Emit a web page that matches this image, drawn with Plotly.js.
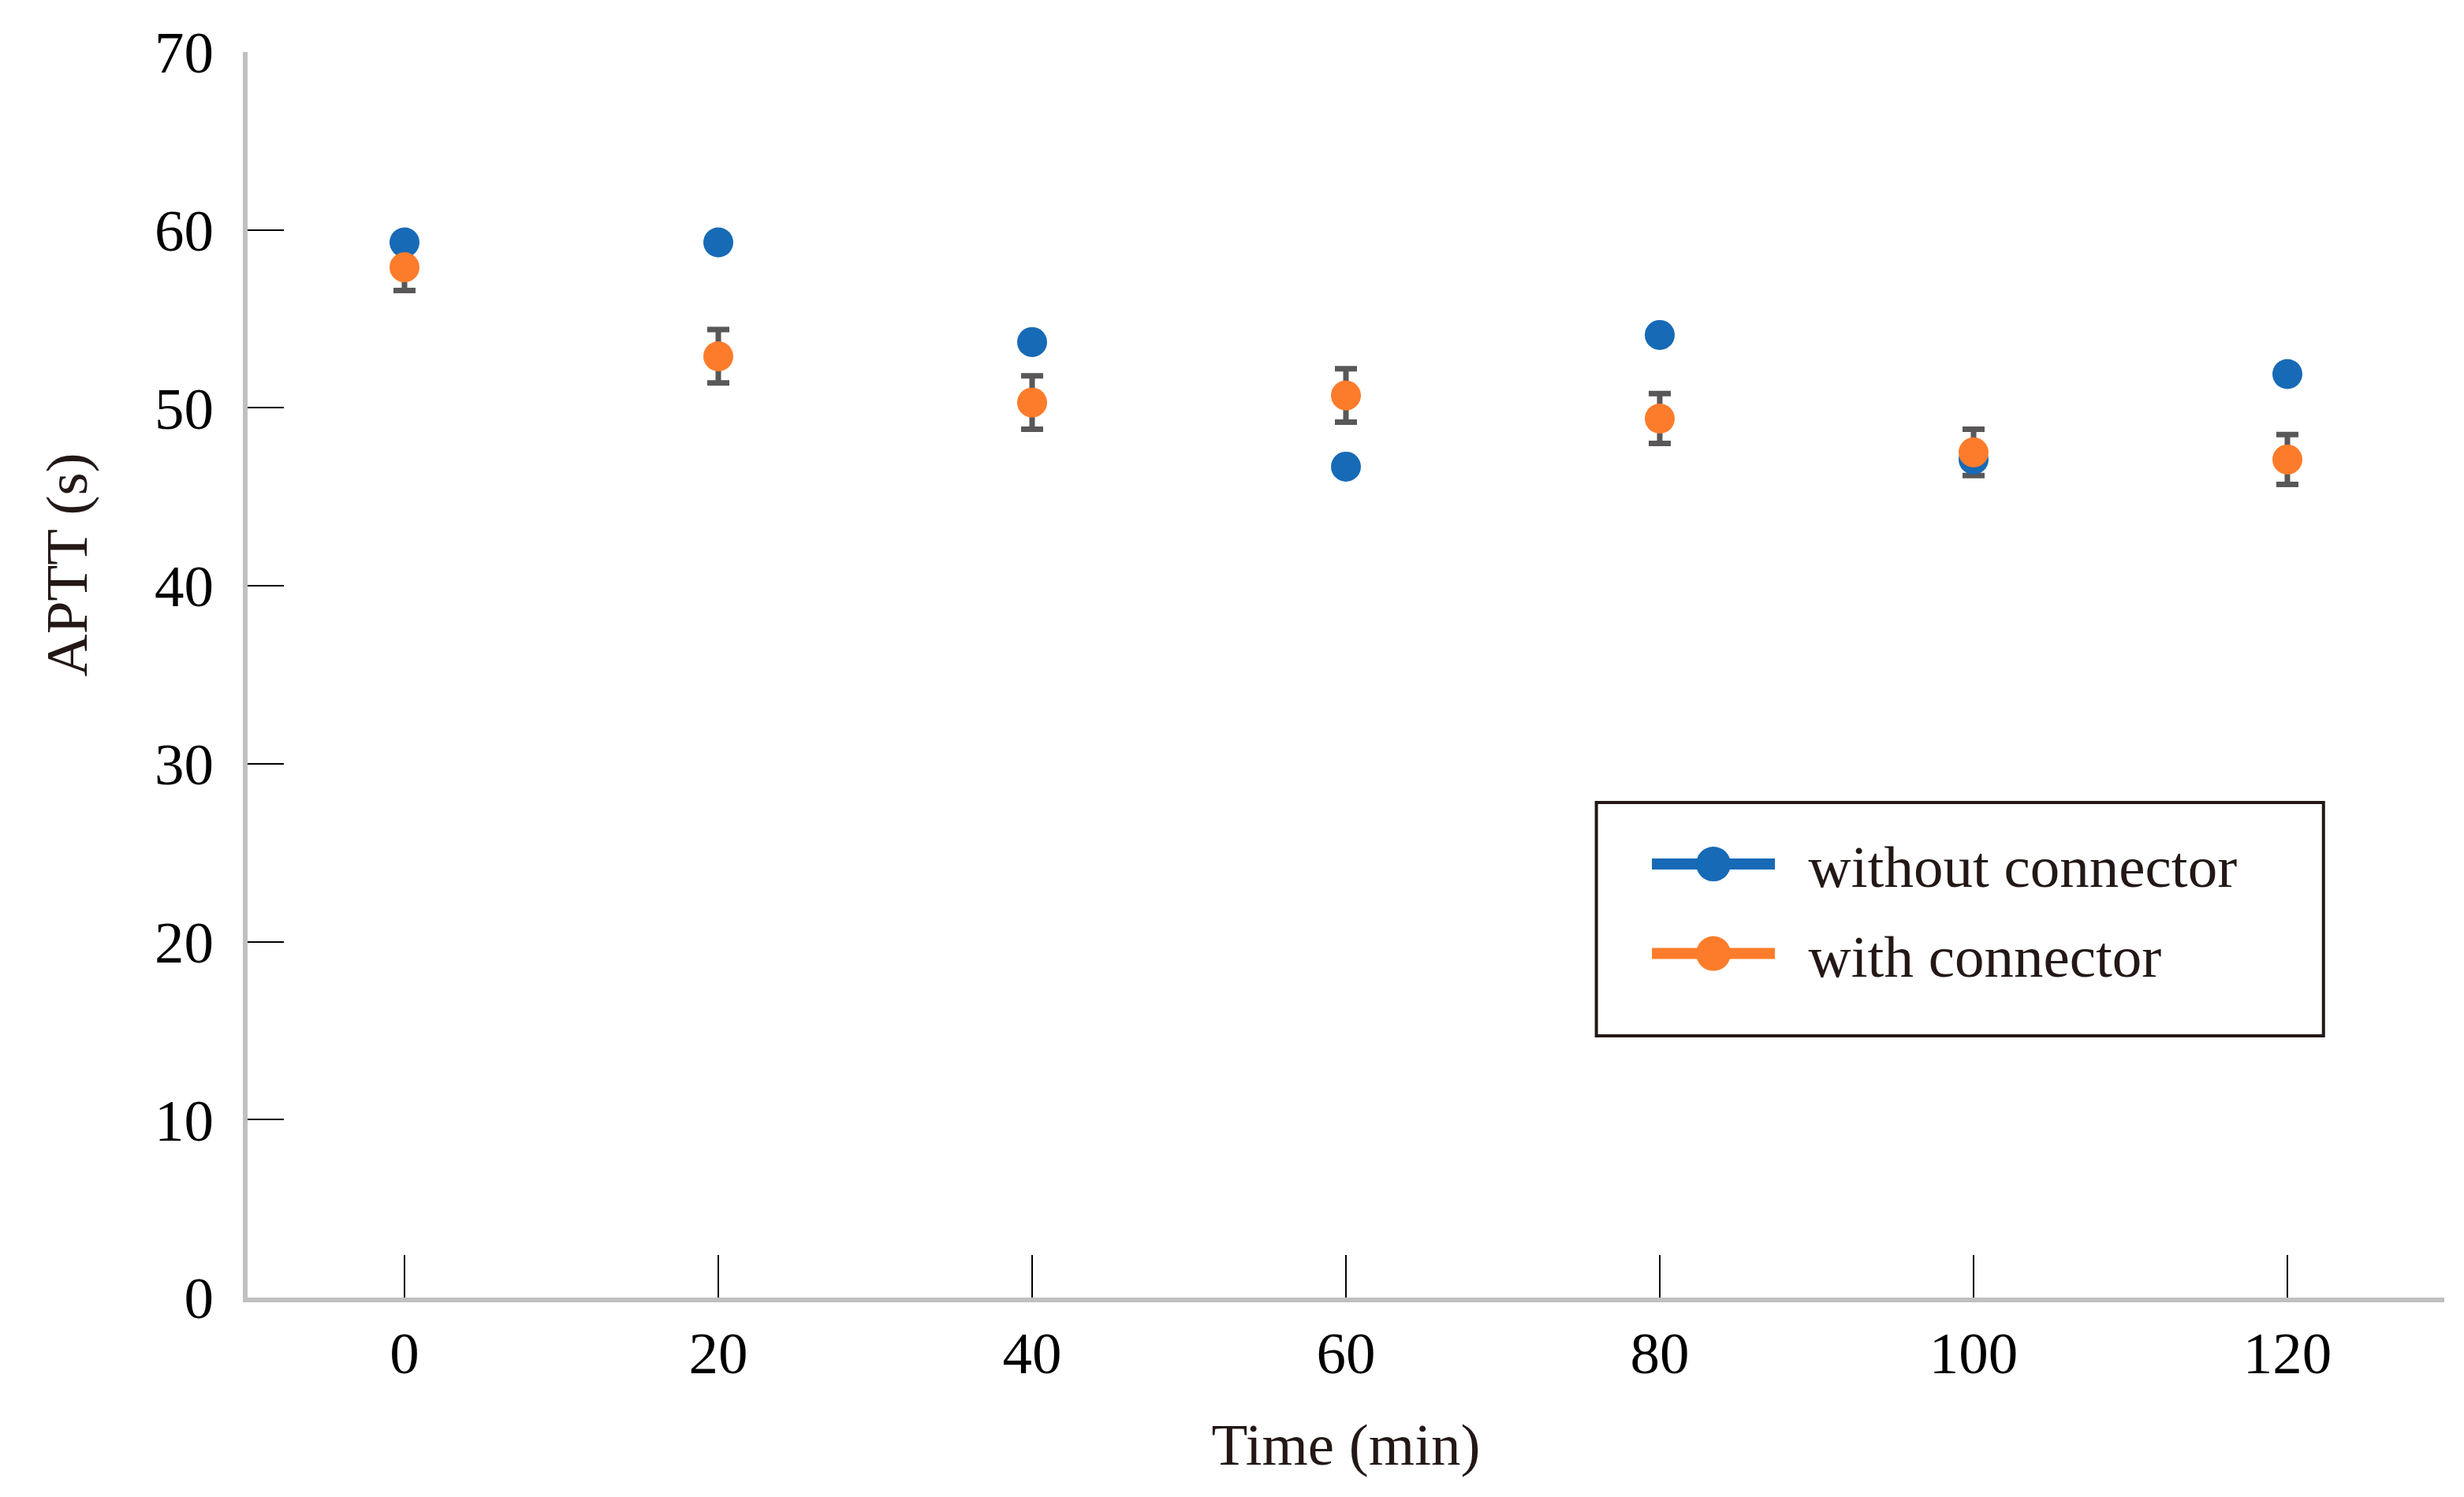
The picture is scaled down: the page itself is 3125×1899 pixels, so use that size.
<!DOCTYPE html>
<html>
<head>
<meta charset="utf-8">
<script src="https://cdn.plot.ly/plotly-3.0.1.min.js"></script>
<style>
  html, body { margin: 0; padding: 0; background: white; }
  #chart { width: 3125px; height: 1899px; }
</style>
</head>
<body>
<div id="chart"></div>
<script>
const timeMin = [0, 20, 40, 60, 80, 100, 120];
const withoutConnector = [59.3, 59.3, 53.7, 46.7, 54.1, 47.1, 51.9];
const withConnector = [57.9, 52.9, 50.3, 50.7, 49.4, 47.5, 47.1];
const withConnectorErr = [1.3, 1.5, 1.5, 1.5, 1.4, 1.3, 1.4];
const yTicks = [0, 10, 20, 30, 40, 50, 60, 70];

const BLUE = '#176ab6';
const ORANGE = '#fd7c2b';
const TEXT = '#231815';
const FONT = 'Liberation Serif, Times New Roman, serif';
const NBSP = '\u00a0\u00a0';
const LEGEND_DOT_R = 22; // legend markers are capped by plotly, enlarge after drawing
const LEGEND_LINE_W = 14;

const traces = [
    // error bars first so the blue dots sit on top of them
    {
        x: timeMin,
        y: withConnector,
        type: 'scatter',
        mode: 'markers',
        marker: { size: 38, color: ORANGE, opacity: 0 },
        error_y: { type: 'data', array: withConnectorErr, visible: true, color: '#595757', thickness: 7, width: 14 },
        showlegend: false,
        hoverinfo: 'skip'
    },
    {
        x: timeMin,
        y: withoutConnector,
        type: 'scatter',
        mode: 'markers',
        marker: { size: 38, color: BLUE },
        showlegend: false
    },
    {
        x: timeMin,
        y: withConnector,
        type: 'scatter',
        mode: 'markers',
        marker: { size: 38, color: ORANGE },
        showlegend: false
    },
    // legend keys only
    {
        x: [null], y: [null],
        type: 'scatter',
        mode: 'lines+markers',
        name: NBSP + 'without connector',
        legendgroup: 'a',
        line: { color: BLUE, width: 10 },
        marker: { size: 16, color: BLUE }
    },
    {
        x: [null], y: [null],
        type: 'scatter',
        mode: 'lines+markers',
        name: NBSP + 'with connector',
        legendgroup: 'b',
        line: { color: ORANGE, width: 10 },
        marker: { size: 16, color: ORANGE }
    }
];

const axisCommon = {
    showline: true,
    linecolor: '#c0c0c0',
    linewidth: 6,
    showgrid: false,
    zeroline: false,
    ticks: 'inside',
    tickcolor: '#000000',
    tickwidth: 2,
    tickfont: { family: FONT, size: 75, color: '#000000' }
};

const layout = {
    width: 3125,
    height: 1899,
    plot_bgcolor: 'white',
    paper_bgcolor: 'white',
    margin: { l: 314, r: 25, t: 66, b: 253, pad: 0 },
    showlegend: true,
    legend: {
        x: 0.6375,
        y: 0.383,
        xanchor: 'left',
        yanchor: 'top',
        bgcolor: 'rgba(0,0,0,0)',
        borderwidth: 0,
        itemwidth: 156,
        tracegroupgap: 13,
        font: { family: FONT, size: 75, color: TEXT }
    },
    xaxis: Object.assign({}, axisCommon, {
        range: [-10, 130],
        tickvals: timeMin,
        ticklen: 54,
        title: { text: 'Time (min)', font: { family: FONT, size: 75, color: TEXT }, standoff: 50 }
    }),
    yaxis: Object.assign({}, axisCommon, {
        range: [0, 70],
        tickvals: yTicks,
        ticklen: 46,
        ticklabelstandoff: 22
    }),
    annotations: [
        {
            text: 'APTT (s)',
            xref: 'paper', yref: 'paper',
            x: -0.0824, y: 0.5886,
            xanchor: 'center', yanchor: 'middle',
            textangle: -90,
            showarrow: false,
            font: { family: FONT, size: 75, color: TEXT }
        }
    ],
    shapes: [
        {
            type: 'rect',
            xref: 'paper', yref: 'paper',
            x0: 0.614, x1: 0.945, y0: 0.2101, y1: 0.3975,
            line: { color: TEXT, width: 4 },
            fillcolor: 'rgba(0,0,0,0)'
        }
    ]
};

Plotly.newPlot('chart', traces, layout, { displayModeBar: false, staticPlot: true }).then(gd => {
    const r = LEGEND_DOT_R;
    const circle = 'M' + r + ',0A' + r + ',' + r + ' 0 1,1 0,-' + r + 'A' + r + ',' + r + ' 0 0,1 ' + r + ',0Z';
    gd.querySelectorAll('.legend .legendpoints path.scatterpts').forEach(p => p.setAttribute('d', circle));
    gd.querySelectorAll('.legend .legendlines path').forEach(p => p.style.strokeWidth = LEGEND_LINE_W + 'px');
});
</script>
</body>
</html>
